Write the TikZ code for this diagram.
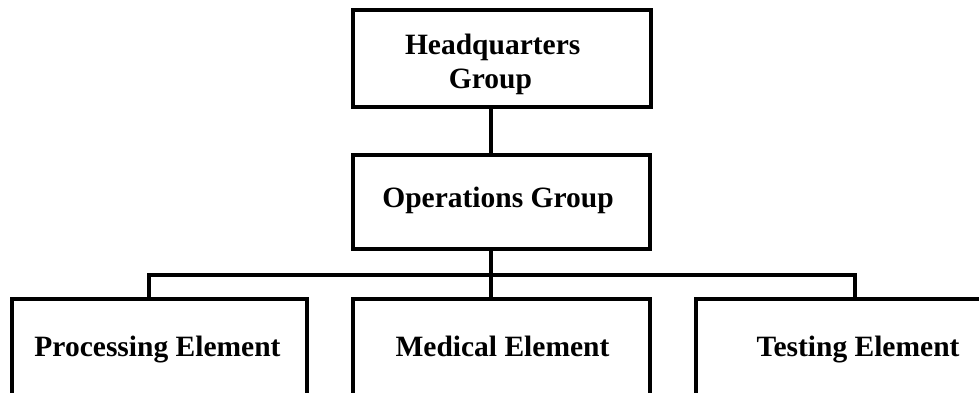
\documentclass[tikz,border=0pt]{standalone}
\usepackage{fontspec}
\setmainfont{Liberation Serif}
\begin{document}
\begin{tikzpicture}[x=1pt,y=1pt,
  box/.style={draw=black,line width=3.3pt,rectangle,inner sep=0pt,fill=none},
  lbl/.style={font=\fontsize{29.5}{34}\selectfont\bfseries,inner sep=0pt,anchor=base},
  conn/.style={draw=black,line width=3.3pt}]
\useasboundingbox (0,0) rectangle (979,393);
\clip (0,0) rectangle (979,393);
\node[box,minimum width=298pt,minimum height=97pt] (hq) at (502,334.5) {};
\node[box,minimum width=297pt,minimum height=94pt] (ops) at (501.5,191) {};
\node[box,minimum width=295pt,minimum height=124pt] (proc) at (159.5,32) {};
\node[box,minimum width=297pt,minimum height=124pt] (med) at (501.5,32) {};
\node[box,minimum width=314pt,minimum height=124pt] (test) at (853,32) {};
\node[lbl] (hqt1) at (492.7,338) {Headquarters};
\node[lbl] (hqt2) at (490.5,304) {Group};
\node[lbl] (opst) at (498,185.5) {Operations Group};
\node[lbl] (proct) at (157.5,36.5) {Processing Element};
\node[lbl] (medt) at (502.5,36.5) {Medical Element};
\node[lbl] (testt) at (858,36.5) {Testing Element};
\coordinate (busL) at (149,118);
\coordinate (busM) at (491,118);
\coordinate (busR) at (855,118);
\draw[conn] (hq.south -| busM) -- (ops.north -| busM);
\draw[conn] (ops.south -| busM) -- (med.north -| busM);
\draw[conn] (proc.north -| busL) -- (busL) -- (busR) -- (test.north -| busR);
\end{tikzpicture}
\end{document}
